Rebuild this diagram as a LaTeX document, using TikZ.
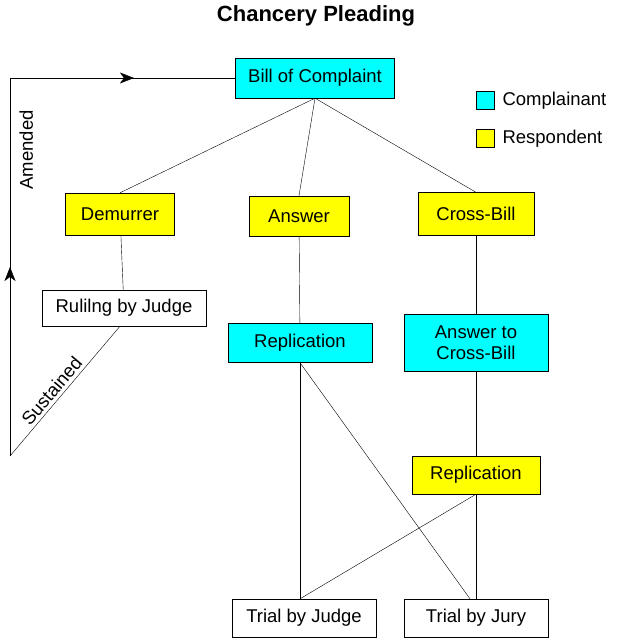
\documentclass[tikz,border=0pt]{standalone}
\usepackage{fontspec}
\setmainfont{Liberation Sans}
\usetikzlibrary{decorations.markings,arrows.meta}
\definecolor{cmp}{RGB}{0,255,255}
\definecolor{rsp}{RGB}{255,255,0}
\tikzset{
  txt/.style={font=\fontsize{18.5}{21}\selectfont},
  box/.style={draw, thin, inner sep=0pt, txt, align=center},
  comp/.style={box, fill=cmp},
  resp/.style={box, fill=rsp},
  link/.style={thin},
  midarrow/.style={postaction={decorate}, decoration={markings,
    mark=at position #1 with {\arrow{Stealth[length=14pt,width=11pt,inset=4pt]}}}}
}
\begin{document}
\begin{tikzpicture}[x=1pt,y=-1pt]
\useasboundingbox (0,0) rectangle (624,644);
\node[font=\fontsize{22}{25}\selectfont\bfseries] (title) at (316,16) {Chancery Pleading};

\node[comp, minimum width=159, minimum height=40] (bill) at (315,78) {Bill of Complaint};
\node[resp, minimum width=109, minimum height=42] (dem) at (120,214) {Demurrer};
\node[resp, minimum width=100, minimum height=40] (ans) at (299,216) {Answer};
\node[resp, minimum width=116, minimum height=43] (cross) at (476,214) {Cross-Bill};
\node[box, minimum width=164, minimum height=36] (rul) at (124,308) {Rulilng by Judge};
\node[comp, minimum width=144, minimum height=39] (rep) at (300,343) {Replication};
\node[comp, minimum width=144, minimum height=57] (acb) at (476,343) {Answer to\\Cross-Bill};
\node[resp, minimum width=128, minimum height=38] (rep2) at (476,475) {Replication};
\node[box, minimum width=144, minimum height=38] (tjudge) at (304,618) {Trial by Judge};
\node[box, minimum width=144, minimum height=38] (tjury) at (476,618) {Trial by Jury};

% legend
\node[comp, minimum size=18] (lc) at (485,100) {};
\node[anchor=west, txt] (lct) at (499,101) {Complainant};
\node[resp, minimum size=18] (lr) at (485,138) {};
\node[anchor=west, txt] (lrt) at (499,139) {Respondent};

% links
\draw[link] (bill.south) -- (dem.north);
\draw[link] (bill.south) -- (ans.north);
\draw[link] (bill.south) -- (cross.north);
\draw[link] (dem) -- (rul);
\draw[link] (ans) -- (rep);
\draw[link] (cross) -- (acb);
\draw[link] (acb) -- (rep2);
\draw[link] (rep2) -- (tjury);
\draw[link] (rep.south) -- ([xshift=-4]tjudge.north);
\draw[link] (rep.south) -- ([xshift=-6]tjury.north);
\draw[link] (rep2.south) -- ([xshift=-4]tjudge.north);

% amended loop
\coordinate (low) at (10,456);
\coordinate (top) at (10,78);
\draw[link] ([xshift=-4]rul.south) -- node[sloped, above, pos=0.55, txt] {Sustained} (low);
\draw[link, midarrow=0.5] (low) -- node[sloped, below=6pt, pos=0.81, txt] {Amended} (top);
\draw[link, midarrow=0.55] (top) -- (bill.west);
\end{tikzpicture}
\end{document}
